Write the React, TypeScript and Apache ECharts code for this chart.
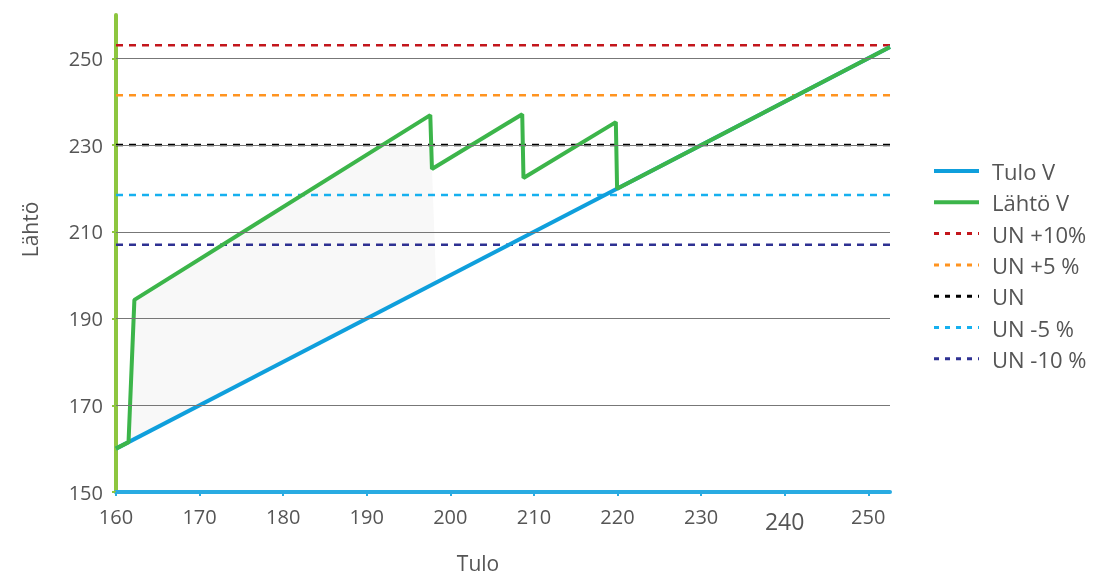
import React, { useEffect, useRef } from 'react';
import * as echarts from 'echarts';

const xTicks = [160, 170, 180, 190, 200, 210, 220, 230, 240, 250];
const yTicks = [150, 170, 190, 210, 230, 250];
const gridValues = [170, 190, 210, 230, 250];
const xMax = 252.6;

const tuloV = [[160, 160], [252.6, 252.6]];
const lahtoV = [
  [160, 160], [161.5, 161.5], [162.2, 194.3], [197.6, 236.9], [197.8, 224.5],
  [208.6, 237.1], [208.75, 222.4], [219.8, 235.3], [219.95, 219.95], [252.6, 252.6],
];
const unNames = ['UN +10%', 'UN +5 %', 'UN', 'UN -5 %', 'UN -10 %'];
const unValues = [253, 241.5, 230, 218.5, 207];
const unColors = ['#c3161c', '#ff9420', '#000000', '#16b0ef', '#2e3192'];
const shade = [[161.5, 161.5], [162.2, 194.3], [191.7, 230], [197.7, 230], [198.3, 198.3]];

export default function App() {
  const ref = useRef<HTMLDivElement>(null);
  useEffect(() => {
    if (!ref.current) return;
    const chart = echarts.init(ref.current, undefined, { renderer: 'svg' });
    const textColor = '#555';
    const series: any[] = [
      {
        type: 'custom', name: 'shade', silent: true, z: 0,
        data: [[160, 160]],
        renderItem: (_p: any, api: any) => ({
          type: 'polygon',
          shape: { points: shade.map((p) => api.coord(p)) },
          style: { fill: '#f8f8f8' },
        }),
      },
      {
        type: 'line', name: 'grid', z: 1, silent: true, symbol: 'none',
        data: [[160, 150]], lineStyle: { opacity: 0 },
        markLine: {
          silent: true, symbol: 'none', label: { show: false },
          lineStyle: { color: '#777', width: 1, type: 'solid' },
          data: gridValues.map((v) => ({ yAxis: v })),
        },
      },
      ...unNames.map((n, i) => ({
        type: 'line', name: n, z: 2, symbol: 'none', silent: true,
        data: [[160, unValues[i]], [xMax, unValues[i]]],
        lineStyle: { color: unColors[i], width: 2.5, type: [7, 6] },
        itemStyle: { color: unColors[i] },
      })),
      {
        type: 'line', name: 'Tulo V', z: 3, symbol: 'none', data: tuloV,
        lineStyle: { color: '#0f9fdc', width: 4 }, itemStyle: { color: '#0f9fdc' },
      },
      {
        type: 'line', name: 'Lähtö V', z: 4, symbol: 'none', data: lahtoV,
        lineStyle: { color: '#3cb54a', width: 4 }, itemStyle: { color: '#3cb54a' },
      },
    ];
    chart.setOption({
      animation: false,
      textStyle: { fontFamily: 'Open Sans' },
      grid: { left: 116, right: 209, top: 15, bottom: 84, containLabel: false },
      legend: {
        orient: 'vertical', left: 932, top: 160, padding: 0,
        itemWidth: 45, itemHeight: 14, itemGap: 9.3,
        itemStyle: { opacity: 0 },
        data: [
          { name: 'Tulo V', lineStyle: { width: 4 } },
          { name: 'Lähtö V', lineStyle: { width: 4 } },
          ...unNames.map((n) => ({ name: n, lineStyle: { width: 3, type: [5, 6] } })),
        ],
        textStyle: { fontSize: 22, color: textColor, padding: [0, 0, 0, 8] },
      },
      xAxis: {
        type: 'value', min: 160, max: xMax, interval: 10,
        name: 'Tulo', nameLocation: 'middle', nameGap: 60,
        nameTextStyle: { fontSize: 21, color: textColor, padding: [0, 50, 0, 0] },
        axisLine: { show: true, onZero: false, lineStyle: { color: '#29abe2', width: 4 } },
        axisTick: { show: true, length: 4, lineStyle: { color: '#29abe2', width: 2 }, customValues: xTicks },
        axisLabel: {
          customValues: xTicks, fontSize: 20, color: textColor, margin: 14,
          formatter: (v: number) => (v === 240 ? '{big|240}' : String(v)),
          rich: { big: { fontSize: 23, color: textColor, padding: [3, 0, 0, 0] } },
        },
        splitLine: { show: false },
      },
      yAxis: {
        type: 'value', min: 150, max: 260,
        name: 'Lähtö', nameLocation: 'middle', nameGap: 76,
        nameTextStyle: { fontSize: 21, color: textColor, padding: [0, 0, 0, 48] },
        axisLine: { show: true, onZero: false, lineStyle: { color: '#8dc63f', width: 4 } },
        axisTick: { show: true, length: 4, lineStyle: { color: '#8dc63f', width: 2 }, customValues: yTicks },
        axisLabel: { customValues: yTicks, fontSize: 20, color: textColor, margin: 13 },
        splitLine: { show: false },
      },
      series,
    });
    return () => chart.dispose();
  }, []);
  return <div ref={ref} style={{ position: 'fixed', left: 0, top: 0, width: 1099, height: 578 }} />;
}
